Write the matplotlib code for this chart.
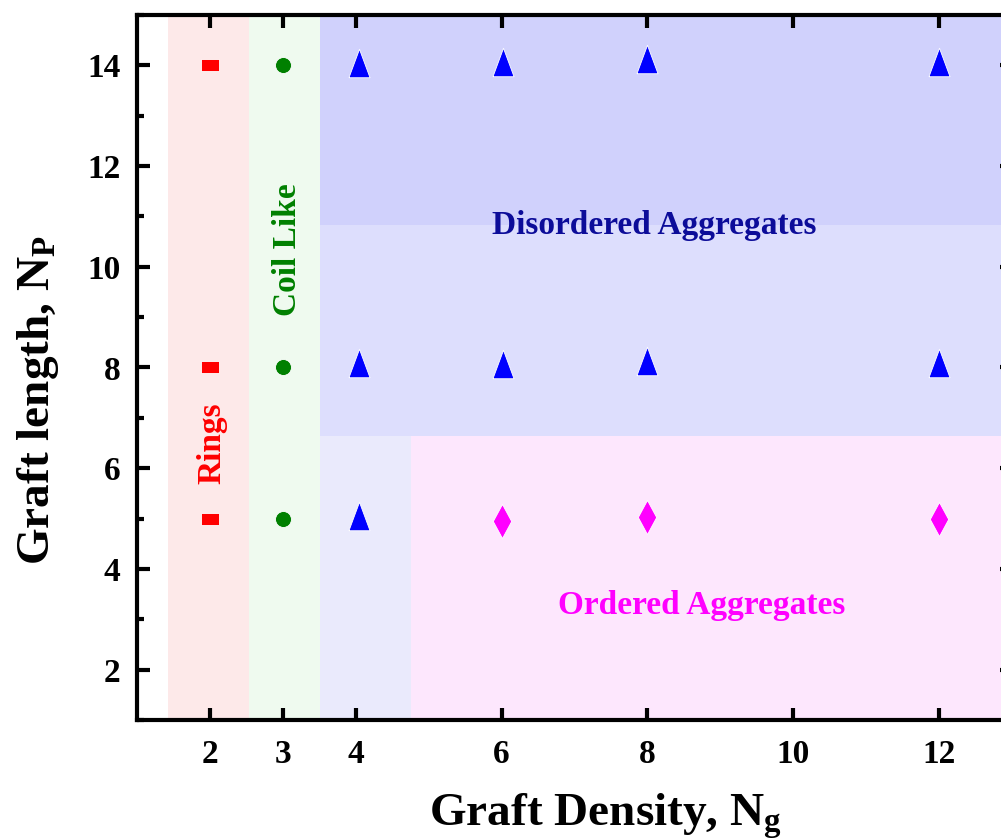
import numpy as np
import matplotlib
matplotlib.use("Agg")
import matplotlib.pyplot as plt
from matplotlib.ticker import MultipleLocator

plt.rcParams['font.family'] = ['Liberation Serif', 'DejaVu Serif']
plt.rcParams['font.weight'] = 'bold'
plt.rcParams['mathtext.fontset'] = 'custom'
plt.rcParams['mathtext.rm'] = 'Liberation Serif:bold'
plt.rcParams['mathtext.it'] = 'Liberation Serif:bold'
plt.rcParams['mathtext.bf'] = 'Liberation Serif:bold'

# ---- phase points (graft density Ng, graft length Np) ----
rings_x = [2, 2, 2]
rings_y = [14, 8, 5]
coil_x = [3, 3, 3]
coil_y = [14, 8, 5]
disord_x = [4.05, 6.02, 8.0, 12.0, 4.05, 6.02, 8.0, 12.0, 4.05]
disord_y = [14.05, 14.07, 14.12, 14.06, 8.08, 8.06, 8.12, 8.09, 5.05]
ord_x = [6.0, 8.0, 12.0]
ord_y = [4.95, 5.03, 5.0]

xticks = [2, 3, 4, 6, 8, 10, 12]
yticks = [2, 4, 6, 8, 10, 12, 14]

# ---- phase regions: (x0, x1), (y0, y1), color ----
region_x = [(1.42, 2.54), (2.54, 3.51), (3.51, 13), (3.51, 13), (3.51, 4.76), (4.76, 13)]
region_y = [(1, 15), (1, 15), (10.83, 15), (6.63, 10.83), (1, 6.63), (1, 6.63)]
region_c = ['#fde9e9', '#effaef', '#d0d1fc', '#dddefd', '#eaeafc', '#fde7fd']

fig = plt.figure(figsize=(10.01, 8.4), dpi=100)
ax = fig.add_axes([137/1001, 1 - 720/840, (1012 - 137)/1001, (720 - 15)/840])

for (x0, x1), (y0, y1), c in zip(region_x, region_y, region_c):
    ax.fill_between([x0, x1], y0, y1, color=c, lw=0, zorder=0)

# custom marker shapes (wide square, tall triangle, tall diamond)
rect_m = [(-1, -0.7), (1, -0.7), (1, 0.7), (-1, 0.7), (-1, -0.7)]
tri_m = [(-0.37, -0.5), (0.37, -0.5), (0, 0.5), (-0.37, -0.5)]
dia_m = [(0, 0.5), (0.27, 0), (0, -0.5), (-0.27, 0), (0, 0.5)]

kw = dict(ls='none', mec='white', mew=0.6, zorder=3)
ax.plot(rings_x, rings_y, marker=rect_m, ms=13, color='#ff0000', **kw)
ax.plot(coil_x, coil_y, marker='o', ms=11.5, color='#008000', **kw)
ax.plot(disord_x, disord_y, marker=tri_m, ms=20.5, color='#0000ff', **kw)
ax.plot(ord_x, ord_y, marker=dia_m, ms=24.5, color='#ff00ff', **kw)

ax.text(2.03, 6.5, 'Rings', rotation=90, ha='center', va='center',
        color='#ff0000', fontsize=24, fontweight='bold')
ax.text(3.06, 10.35, 'Coil Like', rotation=90, ha='center', va='center',
        color='#008000', fontsize=24, fontweight='bold')
ax.text(8.1, 10.81, 'Disordered Aggregates', ha='center', va='center',
        color='#0c0c99', fontsize=24, fontweight='bold')
ax.text(8.75, 3.28, 'Ordered Aggregates', ha='center', va='center',
        color='#ff00ff', fontsize=24, fontweight='bold')

ax.set_xlim(1, 13)
ax.set_ylim(1, 15)
ax.set_xticks(xticks)
ax.set_yticks(yticks)
ax.yaxis.set_minor_locator(MultipleLocator(1))
ax.tick_params(which='both', direction='in', top=True, right=True, width=3,
               labelsize=24)
ax.tick_params(which='major', length=9)
ax.tick_params(which='minor', length=5)
ax.tick_params(axis='x', pad=14)
ax.tick_params(axis='y', pad=12)
for s in ax.spines.values():
    s.set_linewidth(3)

ax.set_xlabel(r'Graft Density, N$_{\mathrm{g}}$', fontsize=34, fontweight='bold')
ax.xaxis.set_label_coords(0.536, -0.102)
ax.set_ylabel(r'Graft length, N$_{\mathrm{P}}$', fontsize=34, fontweight='bold')
ax.yaxis.set_label_coords(-0.087, 0.454)

fig.savefig('out.png', dpi=100)
